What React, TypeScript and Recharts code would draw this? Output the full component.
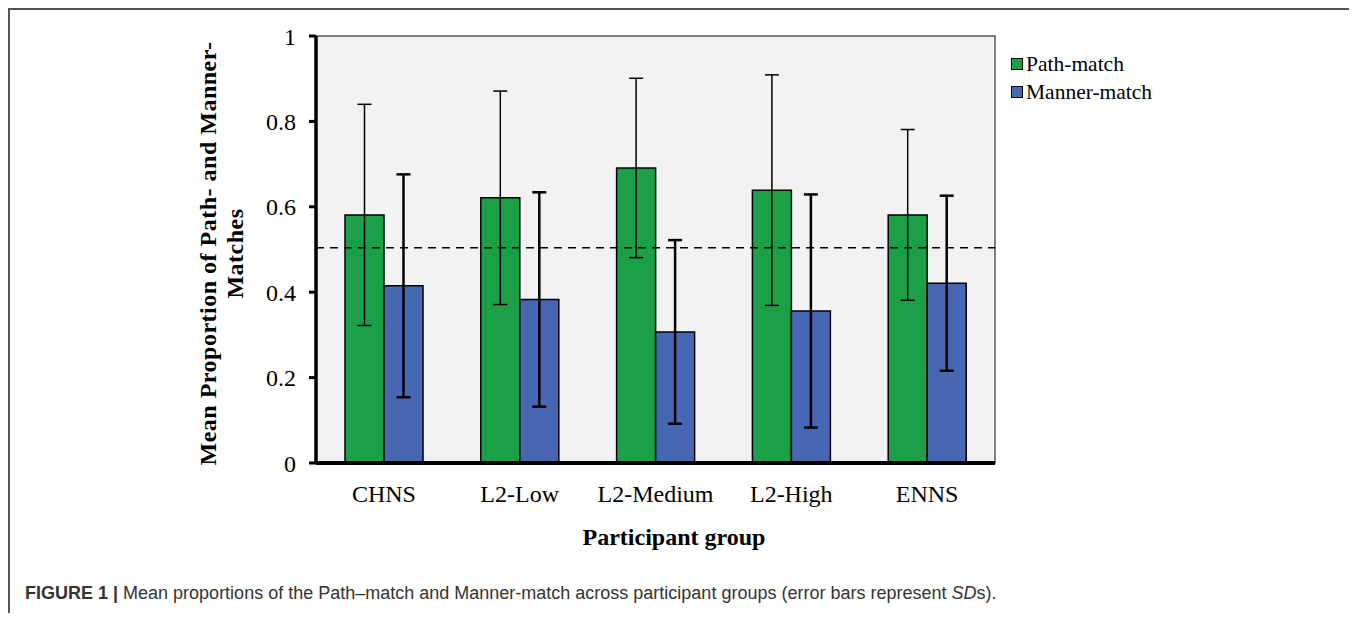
import {
  BarChart,
  Bar,
  XAxis,
  YAxis,
  CartesianGrid,
  ErrorBar,
  ReferenceLine,
  ReferenceArea,
} from 'recharts'

const groups = ['CHNS', 'L2-Low', 'L2-Medium', 'L2-High', 'ENNS']
const pathMean = [0.581, 0.621, 0.691, 0.639, 0.581]
const pathSd = [0.259, 0.25, 0.21, 0.27, 0.2]
const mannerMean = [0.415, 0.383, 0.307, 0.356, 0.421]
const mannerSd = [0.261, 0.251, 0.215, 0.273, 0.205]
const yTicks = [0, 0.2, 0.4, 0.6, 0.8, 1]
const chanceLevel = 0.504

const data = groups.map((g, i) => ({
  group: g,
  path: pathMean[i],
  pathSd: pathSd[i],
  manner: mannerMean[i],
  mannerSd: mannerSd[i],
}))

const GREEN = '#1ba048'
const BLUE = '#4767b3'
const serif = '"Liberation Serif", "Times New Roman", serif'

const legendItems = [
  { label: 'Path-match', color: GREEN },
  { label: 'Manner-match', color: BLUE },
]

function YTitle(props: any) {
  const vb = props.viewBox || {}
  const cy = vb.y + vb.height / 2 + 4
  return (
    <g fontFamily={serif} fontWeight="bold" fontSize={24} fill="#000">
      <text x={206} y={cy} textAnchor="middle" transform={`rotate(-90 206 ${cy})`} letterSpacing={0.5}>
        Mean Proportion of Path- and Manner-
      </text>
      <text x={233} y={cy} textAnchor="middle" transform={`rotate(-90 233 ${cy})`} letterSpacing={0.5}>
        Matches
      </text>
    </g>
  )
}

function XTitle(props: any) {
  const vb = props.viewBox || {}
  return (
    <text x={vb.x + 358} y={vb.y + 82} textAnchor="middle" fontFamily={serif} fontWeight="bold" fontSize={24} fill="#000">
      Participant group
    </text>
  )
}

export default function App() {
  return (
    <div
      style={{
        position: 'relative',
        width: 1347,
        height: 605,
        boxSizing: 'border-box',
        borderTop: '2px solid #555',
        borderLeft: '2px solid #555',
        borderRight: '2px solid #555',
        background: '#fff',
      }}
    >
      <div style={{ position: 'absolute', left: 0, top: 0 }}>
        <BarChart
          width={1330}
          height={560}
          data={data}
          margin={{ top: 26, right: 345, left: 0, bottom: 0 }}
          barGap={0}
          barSize={39}
        >
          <CartesianGrid fill="#f1f2f1" horizontal={false} vertical={false} />
          <ReferenceArea y1={0} y2={1} fill="none" stroke="#555" strokeWidth={1.5} />
          <XAxis
            dataKey="group"
            height={107}
            interval={0}
            tickLine={false}
            tickSize={0}
            tickMargin={22}
            axisLine={{ stroke: '#000', strokeWidth: 4 }}
            tick={{ fontFamily: serif, fontSize: 24, fill: '#000' }}
            label={{ content: XTitle }}
          />
          <YAxis
            width={306}
            domain={[0, 1]}
            ticks={yTicks}
            interval={0}
            tickSize={7}
            tickMargin={13}
            tickLine={{ stroke: '#000', strokeWidth: 3 }}
            axisLine={{ stroke: '#000', strokeWidth: 3.5 }}
            tick={{ fontFamily: serif, fontSize: 24, fill: '#000' }}
            label={{ content: YTitle }}
          />
          <ReferenceLine y={chanceLevel} stroke="#000" strokeWidth={1.5} strokeDasharray="8 6" />
          <Bar dataKey="path" name="Path-match" fill={GREEN} stroke="#000" strokeWidth={1.5} isAnimationActive={false}>
            <ErrorBar dataKey="pathSd" width={7} stroke="#000" strokeWidth={1.5} isAnimationActive={false} />
          </Bar>
          <Bar dataKey="manner" name="Manner-match" fill={BLUE} stroke="#000" strokeWidth={1.5} isAnimationActive={false}>
            <ErrorBar dataKey="mannerSd" width={7} stroke="#000" strokeWidth={2.5} isAnimationActive={false} />
          </Bar>
        </BarChart>
      </div>
      <div style={{ position: 'absolute', left: 1001, top: 40, fontFamily: serif, fontSize: 21.5, color: '#000' }}>
        {legendItems.map((it) => (
          <div key={it.label} style={{ display: 'flex', alignItems: 'center', height: 28 }}>
            <span
              style={{
                display: 'inline-block',
                width: 10,
                height: 10,
                background: it.color,
                border: '1.5px solid #000',
                marginRight: 3,
              }}
            />
            <span>{it.label}</span>
          </div>
        ))}
      </div>
      <div
        style={{
          position: 'absolute',
          left: 15,
          top: 572,
          lineHeight: '22px',
          fontFamily: '"Liberation Sans", Arial, sans-serif',
          fontSize: 18,
          color: '#333',
          whiteSpace: 'nowrap',
        }}
      >
        <b>FIGURE 1 |</b> Mean proportions of the Path–match and Manner-match across participant groups (error bars represent <i>SD</i>s).
      </div>
    </div>
  )
}
